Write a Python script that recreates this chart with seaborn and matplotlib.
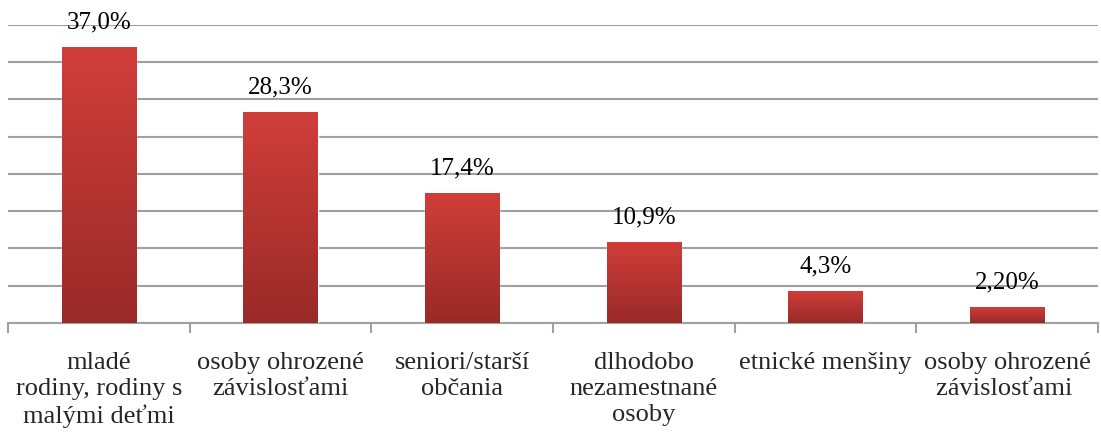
import numpy as np
import matplotlib
matplotlib.use("Agg")
import matplotlib.pyplot as plt
from matplotlib.colors import LinearSegmentedColormap
import seaborn as sns
import pandas as pd

# data
categories = [
    "mladé\nrodiny, rodiny s\nmalými deťmi",
    "osoby ohrozené\nzávislosťami",
    "seniori/starší\nobčania",
    "dlhodobo\nnezamestnané\nosoby",
    "etnické menšiny",
    "osoby ohrozené\nzávislosťami ",
]
values = [37.0, 28.3, 17.4, 10.9, 4.3, 2.2]
value_labels = ["37,0%", "28,3%", "17,4%", "10,9%", "4,3%", "2,20%"]

sns.set_theme(style="white")
plt.rcParams["font.family"] = ["Liberation Serif", "DejaVu Serif"]

df = pd.DataFrame({"cat": categories, "val": values})

fig = plt.figure(figsize=(11.01, 4.39), dpi=100)
ax = fig.add_axes([0.0073, 0.262, 0.99, 0.679])

sns.barplot(data=df, x="cat", y="val", ax=ax, width=0.41, color="#c03633", zorder=3)

ax.set_ylim(0, 40)
ax.set_xlim(-0.5, len(categories) - 0.5)
ax.set_yticks(np.arange(0, 41, 5))
ax.yaxis.grid(True, color="#a0a0a0", linewidth=1.5, zorder=0)
ax.set_axisbelow(True)
ax.tick_params(axis="y", left=False, labelleft=False)
for s in ["top", "right", "left"]:
    ax.spines[s].set_visible(False)
ax.spines["bottom"].set_color("#a0a0a0")
ax.spines["bottom"].set_linewidth(1.5)
ax.set_xlabel("")
ax.set_ylabel("")

# tick marks on category boundaries, labels at centres
ax.set_xticks(np.arange(-0.5, len(categories)), minor=True)
ax.tick_params(axis="x", which="minor", bottom=True, length=7, width=1.5, color="#a0a0a0")
ax.tick_params(axis="x", which="major", bottom=False, length=0, pad=20)
ax.set_xticks(range(len(categories)))
ax.set_xticklabels(categories, fontsize=19, linespacing=1.25, va="top")

# gradient fill on bars
cmap = LinearSegmentedColormap.from_list("rg", ["#992a28", "#d13e3a"])
grad = np.linspace(0, 1, 256).reshape(-1, 1)
for patch, lab in zip(ax.patches, value_labels):
    x0, y0 = patch.get_x(), patch.get_y()
    w, h = patch.get_width(), patch.get_height()
    img = ax.imshow(grad, cmap=cmap, aspect="auto", origin="lower",
                    extent=[x0, x0 + w, y0, y0 + h], zorder=4)
    img.set_clip_path(patch)
    ax.annotate(lab, (x0 + w / 2, y0 + h), xytext=(0, 10.5), textcoords="offset points",
                ha="center", va="bottom", fontsize=18, color="black", zorder=5)

ax.set_xlim(-0.5, len(categories) - 0.5)
ax.set_ylim(0, 40)

fig.savefig("out.png", dpi=100)
